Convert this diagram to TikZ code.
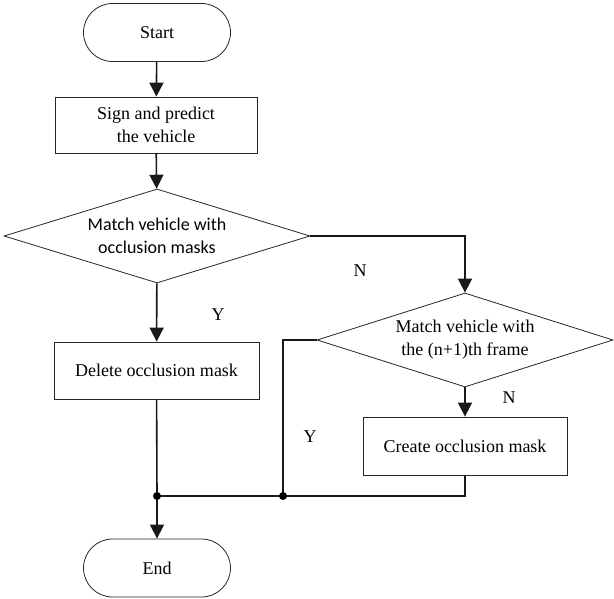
\documentclass[tikz,border=0pt]{standalone}
\usepackage{fontspec}
\setmainfont{Liberation Serif}
\newfontfamily\calfont{Carlito}
\usetikzlibrary{shapes.geometric,arrows.meta}
\begin{document}
\begin{tikzpicture}[x=1pt,y=-1pt,
  font=\fontsize{18}{23}\selectfont,
  term/.style={draw=black!85, line width=0.8pt, rectangle, rounded corners=29pt, minimum width=147pt, minimum height=58pt, inner sep=0pt},
  procbox/.style={draw=black!85, line width=0.8pt, rectangle, minimum height=57pt, inner sep=0pt, align=center},
  decide/.style={draw=black!85, line width=0.8pt, diamond, aspect=3.2, inner sep=0pt, align=center},
  link/.style={line width=1.6pt, black!90},
  conn/.style={link, -{Triangle[width=14pt,length=14pt]}},
  lbl/.style={inner sep=0pt},
  jdot/.style={circle, fill=black, inner sep=0pt, minimum size=8pt}
]
\useasboundingbox (0,0) rectangle (614,599);
\node[term] (start) at (157,32.5) {Start};
\node[procbox, minimum width=202pt, minimum height=56pt] (sign) at (156,125) {Sign and predict\\the vehicle};
\node[decide, minimum width=306pt, minimum height=94pt] (d1) at (157,236) {\calfont Match vehicle with\\\calfont occlusion masks};
\node[procbox, minimum width=205pt] (del) at (156.5,370.5) {Delete occlusion mask};
\node[decide, minimum width=296pt, minimum height=94pt] (d2) at (465,340) {Match vehicle with\\the (n+1)th frame};
\node[procbox, minimum width=204pt, minimum height=58pt] (create) at (465,446) {Create occlusion mask};
\node[term] (end) at (157,568) {End};
\coordinate (j1) at (157,496);
\coordinate (j2) at (283,496);
\coordinate (turn) at (283,340);

\draw[conn] (start) -- (sign);
\draw[conn] (sign) -- (d1);
\draw[conn] (d1) -- (del);
\draw[conn] (d1.east) -| (d2.north);
\draw[conn] (d2) -- (create);
\draw[link] (d2.west) -- (turn) -- (j2);
\draw[link] (create.south) |- (j1);
\draw[link] (del) -- (j1);
\draw[conn] (j1) -- (end);
\node[jdot] (dot1) at (j1) {};
\node[jdot] (dot2) at (j2) {};

\node[lbl] (ln1) at (360,271) {N};
\node[lbl] (ly1) at (218,315) {Y};
\node[lbl] (ln2) at (509,398) {N};
\node[lbl] (ly2) at (310,437) {Y};
\end{tikzpicture}
\end{document}
